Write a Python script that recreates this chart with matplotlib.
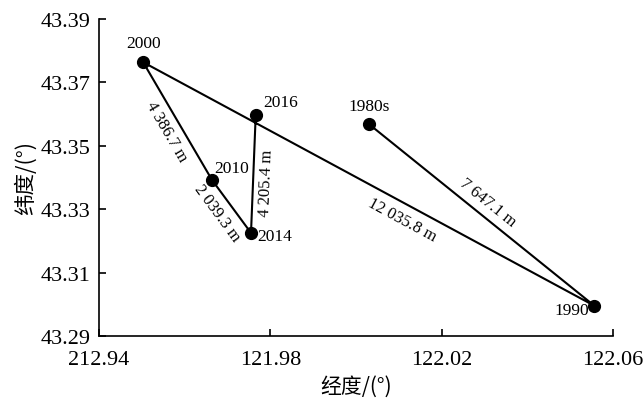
import numpy as np
import matplotlib
matplotlib.use("Agg")
import matplotlib.pyplot as plt

# ---- data ----
years = ["1980s", "1990", "2000", "2010", "2014", "2016"]
lon = [122.003, 122.0557, 121.9503, 121.9664, 121.9755, 121.9766]
lat = [43.3569, 43.2995, 43.3764, 43.3392, 43.3225, 43.3597]
distances = ["7 647.1 m", "12 035.8 m", "4 386.7 m", "2 039.3 m", "4 205.4 m"]
xticks = [121.94, 121.98, 122.02, 122.06]
xticklabels = ["212.94", "121.98", "122.02", "122.06"]
yticks = [43.29, 43.31, 43.33, 43.35, 43.37, 43.39]

serif = ["Liberation Serif", "Noto Sans CJK SC"]

fig = plt.figure(figsize=(6.43, 4.02), dpi=100)
ax = fig.add_axes([0.154, 0.162, 0.799, 0.788])
ax.set_xlim(121.94, 122.06)
ax.set_ylim(43.29, 43.39)

ax.plot(lon, lat, color="black", lw=1.5, zorder=2)
ax.plot(lon, lat, "o", color="black", ms=8.5, zorder=3)

for s in ["top", "right"]:
    ax.spines[s].set_visible(False)
for s in ["left", "bottom"]:
    ax.spines[s].set_linewidth(1.2)

ax.set_xticks(xticks)
ax.set_xticklabels(xticklabels)
ax.set_yticks(yticks)
ax.set_yticklabels([f"{v:.2f}" for v in yticks])
ax.tick_params(direction="in", length=5, width=1.2, labelsize=16, pad=6)
ax.tick_params(axis="x", pad=10)
for lab in ax.get_xticklabels() + ax.get_yticklabels():
    lab.set_family(serif)

ax.set_xlabel("经度/(°)", family=["Noto Sans CJK SC", "Liberation Serif"], fontsize=15, labelpad=4)
ax.set_ylabel("纬度/(°)", family=["Noto Sans CJK SC", "Liberation Serif"], fontsize=15.5, labelpad=3)

# point labels (offset in pixels)
pt_offsets = {"1980s": (0, 18), "1990": (-23, -4), "2000": (0, 19),
              "2010": (20, 12), "2014": (24, -3), "2016": (25, 13)}
for y, x0, y0 in zip(years, lon, lat):
    dx, dy = pt_offsets[y]
    ax.annotate(y, (x0, y0), xytext=(dx, dy), textcoords="offset pixels",
                ha="center", va="center", fontsize=12.5, family=serif)

# distance labels along segments
seg_offsets = [(11, 9), (-5, -15), (-16, -2), (-18, -1), (13, -8)]
seg_pos = [0.48, 0.415, 0.57, 0.6, 0.5]
for i, (d, (ox, oy), t) in enumerate(zip(distances, seg_offsets, seg_pos)):
    p1 = ax.transData.transform((lon[i], lat[i]))
    p2 = ax.transData.transform((lon[i + 1], lat[i + 1]))
    ang = np.degrees(np.arctan2(p2[1] - p1[1], p2[0] - p1[0]))
    if ang > 90:
        ang -= 180
    elif ang < -90:
        ang += 180
    mx = lon[i] + t * (lon[i + 1] - lon[i])
    my = lat[i] + t * (lat[i + 1] - lat[i])
    ax.annotate(d, (mx, my), xytext=(ox, oy), textcoords="offset pixels",
                ha="center", va="center", rotation=ang, rotation_mode="anchor",
                fontsize=12, family=serif)

fig.savefig("out.png", dpi=100)
